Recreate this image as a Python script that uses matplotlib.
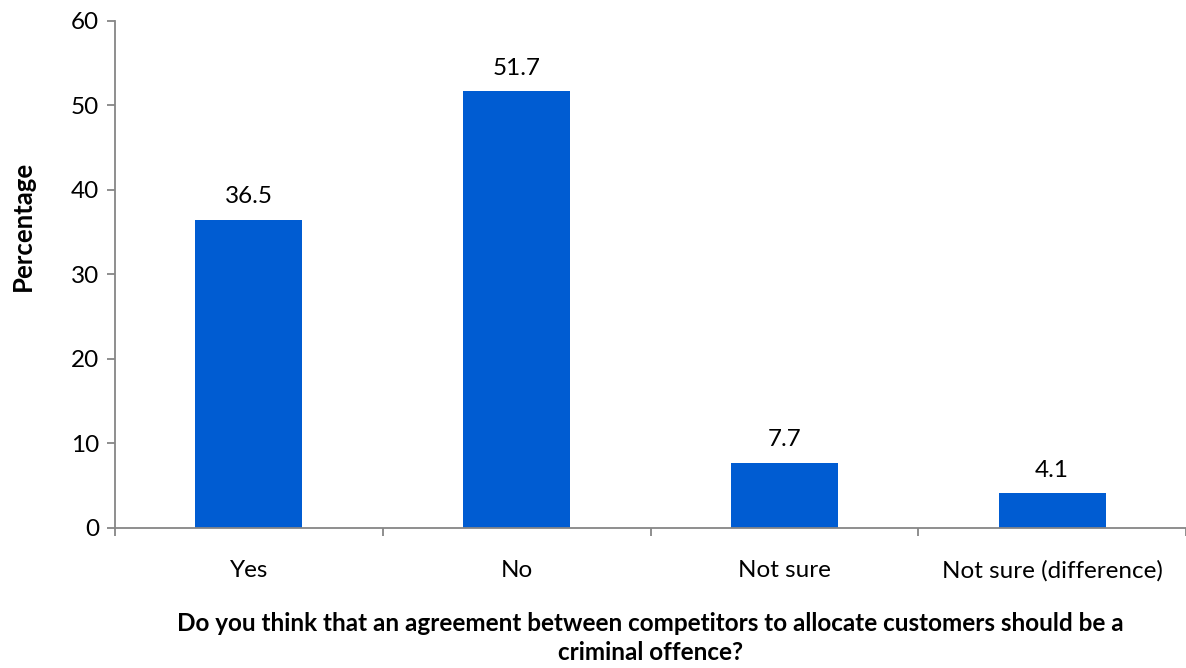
import numpy as np
import matplotlib

matplotlib.use('Agg')
import matplotlib.pyplot as plt

plt.rcParams['font.family'] = ['Lato', 'DejaVu Sans']

# data
categories = ['Yes', 'No', 'Not sure', 'Not sure (difference)']
percentages = [36.5, 51.7, 7.7, 4.1]
y_ticks = [0, 10, 20, 30, 40, 50, 60]

bar_color = '#005CD2'
axis_color = '#868686'
fs = 17.5

fig = plt.figure(figsize=(11.86, 6.68), dpi=100)
ax = fig.add_axes([0.097, 0.2096, 0.903, 0.759])

x = np.arange(len(categories))
bars = ax.bar(x, percentages, width=0.4, color=bar_color, zorder=2)

for rect, val in zip(bars, percentages):
    ax.annotate(f'{val:.1f}', (rect.get_x() + rect.get_width() / 2, rect.get_height()),
                xytext=(0, 9), textcoords='offset points',
                ha='center', va='bottom', fontsize=fs)

ax.set_xlim(-0.5, len(categories) - 0.5)
ax.set_ylim(0, 60)
ax.set_yticks(y_ticks)

# category labels centred, tick marks on the boundaries
ax.set_xticks(x)
ax.set_xticklabels(categories)
ax.set_xticks(np.arange(len(categories) + 1) - 0.5, minor=True)
ax.tick_params(axis='x', which='major', length=0, pad=23, labelsize=fs)
ax.tick_params(axis='x', which='minor', length=5.5, width=1.3, color=axis_color, direction='out')
ax.tick_params(axis='y', length=5.5, width=1.3, color=axis_color, pad=6, labelsize=fs)

for side in ['top', 'right']:
    ax.spines[side].set_visible(False)
for side in ['left', 'bottom']:
    ax.spines[side].set_color(axis_color)
    ax.spines[side].set_linewidth(1.3)

ax.set_xlabel('Do you think that an agreement between competitors to allocate customers should be a\ncriminal offence?',
              fontsize=fs, fontweight='bold', labelpad=22, linespacing=1.3)
fig.text(0.019, 0.662, 'Percentage', rotation=90, ha='center', va='center',
         fontsize=18.5, fontweight='bold')

fig.savefig('out.png', dpi=100)
plt.close()
